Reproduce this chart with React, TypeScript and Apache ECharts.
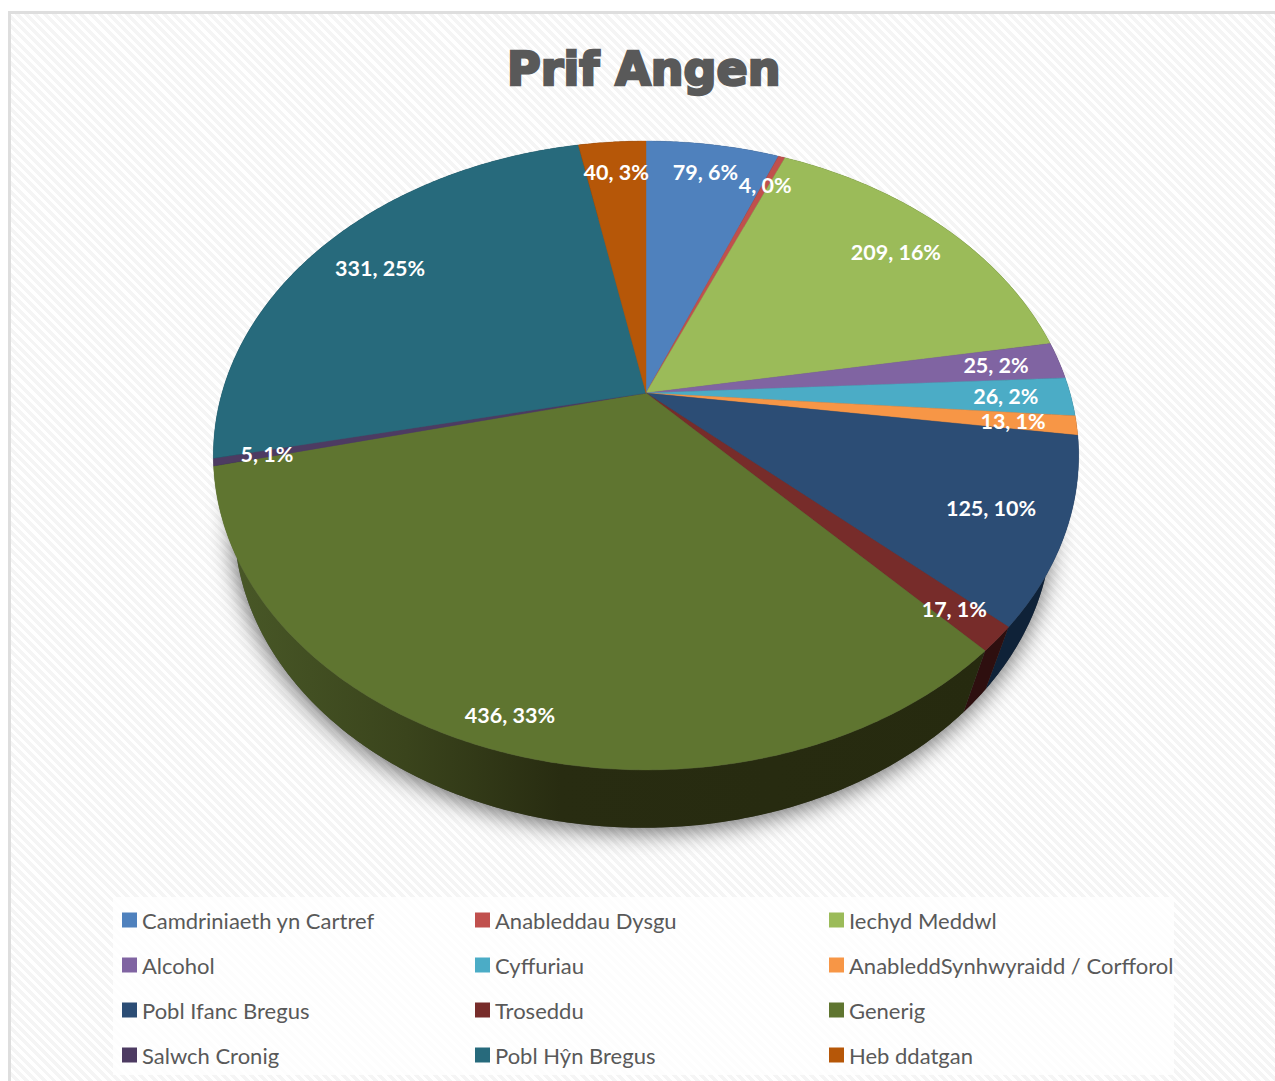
import React, { useEffect, useRef } from "react";
import * as echarts from "echarts";

const titleText = "Prif Angen";
const categories = ["Camdriniaeth yn Cartref", "Anableddau Dysgu", "Iechyd Meddwl", "Alcohol", "Cyffuriau", "AnableddSynhwyraidd / Corfforol", "Pobl Ifanc Bregus", "Troseddu", "Generig", "Salwch Cronig", "Pobl Hŷn Bregus", "Heb ddatgan"];
const values = [79, 4, 209, 25, 26, 13, 125, 17, 436, 5, 331, 40];
const percents = [6, 0, 16, 2, 2, 1, 10, 1, 33, 1, 25, 3];
const colors = ["#4f81bd", "#c0504d", "#9bbb59", "#8064a2", "#4bacc6", "#f79646", "#2c4d75", "#772c2a", "#5f7530", "#4d3b62", "#276a7c", "#b65708"];
const wallColors = ["#1b2c41", "#421c1b", "#36411f", "#2c2338", "#1a3c45", "#562f0c", "#0f2238", "#2e0f0f", "#262a0f", "#2a1f36", "#0e2730", "#3f1e03"];
const labelRadius = [0.87, 0.86, 0.83, 0.846, 0.847, 0.855, 0.835, 0.893, 0.918, 0.881, 0.82, 0.86];

const total = values.reduce((a, b) => a + b, 0);
const CX = 646, CY = 393, K = 0.1987, A = 424, B = 302;
const project = (deg: number, r = 1) => {
  const t = (deg * Math.PI) / 180;
  const u = r * Math.sin(t), v = r * Math.cos(t);
  const d = 1 + K * v;
  return [CX + (A * u) / d, CY - (B * v) / d];
};
const lower = (p: number[]) => [CX - 3 + 0.945 * (p[0] - CX), 0.97 * p[1] + 81];
const startAngle = (i: number) => (values.slice(0, i).reduce((a, b) => a + b, 0) / total) * 360;
const arc = (a0: number, a1: number) => {
  const n = Math.max(2, Math.ceil((a1 - a0) / 0.5));
  const pts: number[][] = [];
  for (let j = 0; j <= n; j++) pts.push(project(a0 + ((a1 - a0) * j) / n));
  return pts;
};

const GENERIC = 8;
const sliceItem = (i: number) => (_p: any, api: any) => {
  const a0 = startAngle(i);
  const a1 = a0 + (Number(api.value(0)) / total) * 360;
  const rim = arc(a0, a1);
  const wall = rim.concat(rim.map(lower).reverse());
  const mid = project((a0 + a1) / 2, labelRadius[i]);
  const wallFill = i === GENERIC
    ? new echarts.graphic.LinearGradient(0, 0, 1, 0, [
        { offset: 0, color: "#4a5a28" },
        { offset: 0.25, color: "#3a441c" },
        { offset: 0.45, color: "#282c11" },
        { offset: 1, color: "#262a0f" },
      ])
    : wallColors[i];
  return {
    type: "group",
    children: [
      { type: "polygon", z2: 1, shape: { points: wall }, style: { fill: wallFill } },
      { type: "polygon", z2: 10, shape: { points: [[CX, CY], ...rim] }, style: { fill: colors[i], stroke: colors[i], lineWidth: 0.4 } },
      {
        type: "text", z2: 20,
        style: {
          text: `${api.value(0)}, ${percents[i]}%`, x: mid[0], y: mid[1], align: "center", verticalAlign: "middle",
          fill: "#ffffff", fontFamily: "Lato", fontWeight: "bold", fontSize: 21.5,
        },
      },
    ],
  };
};

const shadowItem = () => {
  const outline = arc(0, 360).map(lower);
  return {
    type: "polygon", z2: 0, shape: { points: outline },
    style: { fill: "#555555", shadowBlur: 24, shadowColor: "rgba(0,0,0,0.6)", shadowOffsetX: -1, shadowOffsetY: 4 },
  };
};

const columnX = [122, 475, 829];
const rowY = [909, 954, 999, 1044];

export default function App() {
  const ref = useRef<HTMLDivElement>(null);
  useEffect(() => {
    const chart = echarts.init(ref.current!, null, { renderer: "svg" });
    chart.setOption({
      animation: false,
      backgroundColor: "transparent",
      title: {
        text: titleText, left: 507, top: 46, padding: 0,
        textStyle: { fontFamily: "DejaVu Sans", fontWeight: "bold", fontSize: 46, color: "#595959", textBorderColor: "#595959", textBorderWidth: 2.5 },
      },
      graphic: [{ type: "rect", z: -1, shape: { x: 113, y: 897, width: 1061, height: 178 }, style: { fill: "rgba(255,255,255,0.8)" } }],
      legend: categories.map((name, i) => ({
        data: [{ name, icon: "rect" }],
        left: columnX[i % 3], top: rowY[Math.floor(i / 3)], padding: 0,
        itemWidth: 15, itemHeight: 15, selectedMode: false, orient: "horizontal",
        textStyle: { fontFamily: "Lato", fontSize: 22, color: "#595959", padding: [0, 0, 6, 0] },
      })),
      series: [
        { type: "custom", name: "shadow", coordinateSystem: "none", silent: true, renderItem: shadowItem, data: [[total]] },
        ...categories.map((name, i) => ({
          type: "custom", name, coordinateSystem: "none", silent: true,
          itemStyle: { color: colors[i] },
          renderItem: sliceItem(i), data: [[values[i]]],
        })),
      ],
    });
    return () => chart.dispose();
  }, []);
  return (
    <div style={{ position: "absolute", left: 0, top: 0, width: 1275, height: 1081, background: "#fff", overflow: "hidden" }}>
      <div style={{
        position: "absolute", left: 8, top: 11, right: 0, bottom: 0, boxSizing: "border-box",
        borderLeft: "3px solid #dedede", borderTop: "3px solid #dedede",
        background: "repeating-linear-gradient(45deg, #ffffff 0px, #ffffff 3px, #f5f5f5 3px, #f5f5f5 6.5px)",
      }} />
      <div ref={ref} style={{ position: "absolute", left: 0, top: 0, width: 1275, height: 1081 }} />
    </div>
  );
}
